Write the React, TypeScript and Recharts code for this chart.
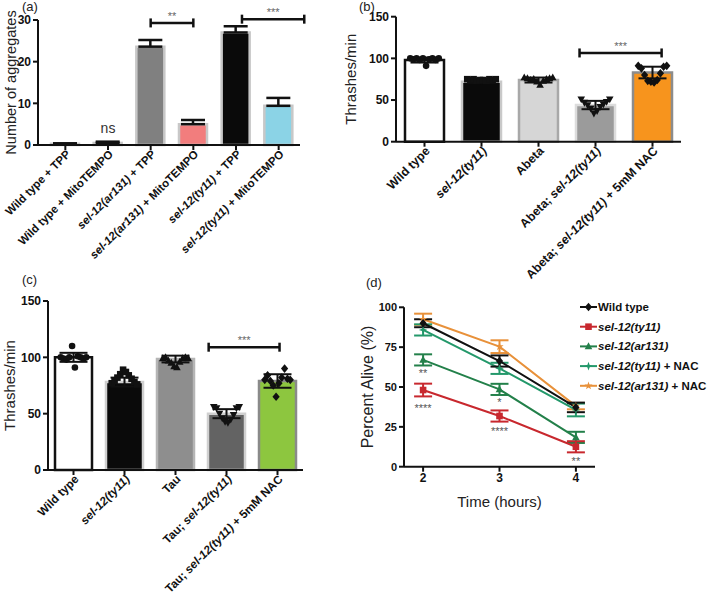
import React from "react"
import {
  ComposedChart,
  Bar,
  Cell,
  XAxis,
  YAxis,
  ErrorBar,
  Scatter,
  ReferenceLine,
  ReferenceDot,
  LineChart,
  Line,
} from "recharts"

const FONT = '"Liberation Sans", Arial, Helvetica, sans-serif'
const INK = "#111"

// ---- (a) aggregates ----
const aggCats = [
  "Wild type + TPP",
  "Wild type + MitoTEMPO",
  "sel-12(ar131) + TPP",
  "sel-12(ar131) + MitoTEMPO",
  "sel-12(ty11) + TPP",
  "sel-12(ty11) + MitoTEMPO",
]
const aggMean = [0.3, 0.5, 23.6, 5.0, 27.0, 9.4]
const aggErr = [0.1, 0.3, 1.6, 1.0, 1.5, 1.9]
const aggFill = ["#555555", "#d8d8d8", "#808080", "#f27d7d", "#0a0a0a", "#8bd3e6"]

// ---- (b) Abeta thrashing ----
const abCats = ["Wild type", "sel-12(ty11)", "Abeta", "Abeta; sel-12(ty11)", "Abeta; sel-12(ty11) + 5mM NAC"]
const abMean = [98, 72, 74, 44, 83]
const abSd = [3, 1.5, 3, 5, 7]
const abPoints = [
  [100, 99, 100, 98, 100, 91, 99, 100, 98, 100],
  [75, 74, 75, 73, 74, 74, 73, 75, 74, 75],
  [77, 76, 74, 75, 72, 68, 73, 75, 76, 77],
  [51, 47, 44, 40, 34, 37, 42, 45, 48, 51],
  [91, 88, 80, 73, 72, 71, 74, 82, 90, 91],
]
const abFill = ["#ffffff", "#0a0a0a", "#d6d6d6", "#9b9b9b", "#f7941d"]
const abStroke = ["#111111", "#c9c9c9", "#a8a8a8", "#dcdcdc", "#8c8c8c"]

// ---- (c) Tau thrashing ----
const tauCats = ["Wild type", "sel-12(ty11)", "Tau", "Tau; sel-12(ty11)", "Tau; sel-12(ty11) + 5mM NAC"]
const tauMean = [100, 78, 98.5, 50, 79]
const tauSd = [4, 4, 3, 4, 6]
const tauPoints = [
  [100, 99, 98, 100, 110, 91, 101, 100, 99, 100],
  [77, 79, 82, 85, 89, 87, 84, 81, 78, 76],
  [99, 100, 97, 95, 92, 91, 96, 99, 100, 99],
  [56, 55, 50, 46, 43, 42, 45, 49, 55, 56],
  [80, 84, 79, 75, 65, 77, 82, 90, 81, 80],
]
const tauFill = ["#ffffff", "#0a0a0a", "#8e8e8e", "#636363", "#8dc63f"]
const tauStroke = ["#111111", "#cfcfcf", "#b5b5b5", "#d0d0d0", "#8a8a8a"]
const markKinds = ["circle", "square", "up", "down", "diamond"]

// ---- (d) survival ----
const hours = [2, 3, 4]
const wtAlive = [90, 66.3, 37.2]
const wtErr = [2.5, 3.5, 3]
const ty11Alive = [48.1, 31.8, 12.5]
const ty11Err = [4, 3.5, 3.5]
const ar131Alive = [67, 48.5, 18.4]
const ar131Err = [3.5, 3.5, 3.5]
const ty11NacAlive = [85.8, 61.7, 35.6]
const ty11NacErr = [3.5, 3.5, 4]
const ar131NacAlive = [92.5, 75.3, 38]
const ar131NacErr = [3.5, 4, 2]
const survStars = [
  { t: 2, y: 58.5, s: "**" },
  { t: 2, y: 36.5, s: "****" },
  { t: 3, y: 40.3, s: "*" },
  { t: 3, y: 22.2, s: "****" },
  { t: 4, y: 3.3, s: "**" },
]

const survSeries = [
  { key: "ar131Nac", name: "sel-12(ar131) + NAC", color: "#e8913a", kind: "star", vals: ar131NacAlive, err: ar131NacErr },
  { key: "ty11Nac", name: "sel-12(ty11) + NAC", color: "#23986a", kind: "plus", vals: ty11NacAlive, err: ty11NacErr },
  { key: "ar131", name: "sel-12(ar131)", color: "#23804a", kind: "up", vals: ar131Alive, err: ar131Err },
  { key: "ty11", name: "sel-12(ty11)", color: "#c8282e", kind: "square", vals: ty11Alive, err: ty11Err },
  { key: "wt", name: "Wild type", color: "#111111", kind: "diamond", vals: wtAlive, err: wtErr },
]
const legendOrder = ["wt", "ty11", "ar131", "ty11Nac", "ar131Nac"]

function splitItalic(s: string) {
  const out: { t: string; it: boolean }[] = []
  const re = /sel-12\([^)]*\)/g
  let last = 0
  let m: RegExpExecArray | null
  while ((m = re.exec(s))) {
    if (m.index > last) out.push({ t: s.slice(last, m.index), it: false })
    out.push({ t: m[0], it: true })
    last = m.index + m[0].length
  }
  if (last < s.length) out.push({ t: s.slice(last), it: false })
  return out
}

function RichText({ text }: { text: string }) {
  return (
    <>
      {splitItalic(text).map((p, i) => (
        <tspan key={i} fontStyle={p.it ? "italic" : "normal"}>
          {p.t}
        </tspan>
      ))}
    </>
  )
}

function SlantTick(props: any) {
  const { x, y, payload, size } = props
  return (
    <g transform={`translate(${x + 3},${y})`}>
      <text
        x={0}
        y={0}
        dy={size * 0.35}
        transform="rotate(-45)"
        textAnchor="end"
        fontFamily={FONT}
        fontWeight="bold"
        fontSize={size}
        fill={INK}
        style={{ whiteSpace: "pre" }}
      >
        <RichText text={payload.value} />
      </text>
    </g>
  )
}

function Mark({ cx, cy, kind, r = 3.4, fill = INK }: any) {
  if (cx == null || cy == null) return null
  switch (kind) {
    case "circle":
      return <circle cx={cx} cy={cy} r={r} fill={fill} />
    case "square":
      return <rect x={cx - r} y={cy - r} width={2 * r} height={2 * r} fill={fill} />
    case "up":
      return <path d={`M${cx},${cy - r * 1.25}L${cx + r * 1.15},${cy + r * 0.85}L${cx - r * 1.15},${cy + r * 0.85}Z`} fill={fill} />
    case "down":
      return <path d={`M${cx},${cy + r * 1.25}L${cx + r * 1.15},${cy - r * 0.85}L${cx - r * 1.15},${cy - r * 0.85}Z`} fill={fill} />
    case "diamond":
      return <path d={`M${cx},${cy - r * 1.3}L${cx + r * 1.1},${cy}L${cx},${cy + r * 1.3}L${cx - r * 1.1},${cy}Z`} fill={fill} />
    case "plus":
      return (
        <path
          d={`M${cx},${cy - r * 1.3}L${cx + r * 0.35},${cy - r * 0.35}L${cx + r * 1.3},${cy}L${cx + r * 0.35},${cy + r * 0.35}L${cx},${cy + r * 1.3}L${cx - r * 0.35},${cy + r * 0.35}L${cx - r * 1.3},${cy}L${cx - r * 0.35},${cy - r * 0.35}Z`}
          fill={fill}
        />
      )
    case "star": {
      const pts: string[] = []
      for (let k = 0; k < 10; k++) {
        const a = -Math.PI / 2 + (k * Math.PI) / 5
        const rr = k % 2 === 0 ? r * 1.3 : r * 0.5
        pts.push(`${cx + rr * Math.cos(a)},${cy + rr * Math.sin(a)}`)
      }
      return <polygon points={pts.join(" ")} fill={fill} />
    }
  }
  return null
}

// bracket with end caps and stars above it
const bracket = (stars: string) => (p: any) => {
  const { x1, y1, x2, y2 } = p
  return (
    <g>
      <line x1={x1} y1={y1} x2={x2} y2={y2} stroke={INK} strokeWidth={2.5} />
      <line x1={x1} y1={y1 - 4.5} x2={x1} y2={y1 + 4.5} stroke={INK} strokeWidth={2.5} />
      <line x1={x2} y1={y2 - 4.5} x2={x2} y2={y2 + 4.5} stroke={INK} strokeWidth={2.5} />
      <text x={(x1 + x2) / 2} y={y1 - 3} textAnchor="middle" fontSize={11} fill="#666" fontFamily={FONT}>
        {stars}
      </text>
    </g>
  )
}

// spread jittered dots across the bar
const spreadPoints = (groups: number[][], width: number) =>
  groups.flatMap((vals, g) =>
    vals.map((v, i) => ({ x: g + (vals.length > 1 ? (i / (vals.length - 1) - 0.5) * width : 0), y: v, g }))
  )

const axisLine = { stroke: INK, strokeWidth: 2 }
const yTick = { fontSize: 12, fontWeight: "bold", fill: INK, fontFamily: FONT }

function PanelA() {
  const rows = aggCats.map((name, i) => ({ name, x: i, mean: aggMean[i], err: [0, aggErr[i]] }))
  const pad = { left: 6, right: 0 }
  return (
    <ComposedChart width={320} height={300} data={rows} margin={{ top: 20, right: 20, left: 0, bottom: 15 }}>
      <XAxis
        xAxisId="cat"
        dataKey="name"
        type="category"
        interval={0}
        height={140}
        padding={pad}
        axisLine={axisLine}
        tickLine={axisLine}
        tickSize={5}
        tick={(p: any) => <SlantTick {...p} size={11.5} />}
      />
      <XAxis xAxisId="num" dataKey="x" type="number" scale="linear" domain={[-0.5, 5.5]} allowDataOverflow hide padding={pad} />
      <YAxis
        width={38}
        domain={[0, 30]}
        ticks={[0, 10, 20, 30]}
        axisLine={axisLine}
        tickLine={axisLine}
        tickSize={5}
        tick={yTick}
        label={{
          value: "Number of aggregates",
          angle: -90,
          position: "insideLeft",
          offset: 11,
          style: { textAnchor: "middle", fontSize: 14.5, fill: "#222", fontFamily: FONT },
        }}
      />
      <Bar xAxisId="cat" dataKey="mean" barSize={28} stroke="#c8c8c8" strokeWidth={2.5} isAnimationActive={false}>
        {rows.map((_, i) => (
          <Cell key={i} fill={aggFill[i]} />
        ))}
        <ErrorBar dataKey="err" width={12} stroke={INK} strokeWidth={2.5} direction="y" />
      </Bar>
      <ReferenceLine xAxisId="num" ifOverflow="visible" segment={[{ x: 2, y: 29.3 }, { x: 3, y: 29.3 }]} shape={bracket("**")} />
      <ReferenceLine xAxisId="num" ifOverflow="visible" segment={[{ x: 4.14, y: 30.2 }, { x: 5.6, y: 30.2 }]} shape={bracket("***")} />
      <ReferenceDot
        xAxisId="num"
        x={1}
        y={4.1}
        r={0}
        fill="none"
        stroke="none"
        ifOverflow="visible"
        label={{ value: "ns", position: "center", fontSize: 14, fill: "#333", fontFamily: FONT }}
      />
    </ComposedChart>
  )
}

function BarDotPanel({
  cats,
  mean,
  sd,
  points,
  fills,
  strokes,
  width,
  height,
  margin,
  yWidth,
  xHeight,
  labelOffset,
  barSize,
  tickSize,
  bracketSeg,
}: any) {
  const rows = cats.map((name: string, i: number) => ({ name, x: i, mean: mean[i], sd: sd[i] }))
  const dots = spreadPoints(points, 0.5)
  return (
    <ComposedChart width={width} height={height} data={rows} margin={margin}>
      <XAxis
        xAxisId="cat"
        dataKey="name"
        type="category"
        interval={0}
        height={xHeight}
        axisLine={axisLine}
        tickLine={axisLine}
        tickSize={5}
        tick={(p: any) => <SlantTick {...p} size={tickSize} />}
      />
      <XAxis
        xAxisId="num"
        dataKey="x"
        type="number"
        scale="linear"
        domain={[-0.5, cats.length - 0.5]}
        allowDataOverflow
        hide
      />
      <YAxis
        width={yWidth}
        domain={[0, 150]}
        ticks={[0, 50, 100, 150]}
        axisLine={axisLine}
        tickLine={axisLine}
        tickSize={5}
        tick={yTick}
        label={{
          value: "Thrashes/min",
          angle: -90,
          position: "insideLeft",
          offset: labelOffset,
          style: { textAnchor: "middle", fontSize: 15, fill: "#222", fontFamily: FONT },
        }}
      />
      <Bar xAxisId="cat" dataKey="mean" barSize={barSize} strokeWidth={2.5} isAnimationActive={false}>
        {rows.map((_: any, i: number) => (
          <Cell key={i} fill={fills[i]} stroke={strokes[i]} />
        ))}
        <ErrorBar dataKey="sd" width={14} stroke={INK} strokeWidth={2} direction="y" />
      </Bar>
      <Scatter
        xAxisId="num"
        data={dots}
        dataKey="y"
        isAnimationActive={false}
        shape={(p: any) => <Mark cx={p.cx} cy={p.cy} kind={markKinds[p.payload.g]} r={3.3} />}
      />
      <ReferenceLine xAxisId="num" ifOverflow="visible" segment={bracketSeg} shape={bracket("***")} />
    </ComposedChart>
  )
}

function PanelD() {
  const rows = hours.map((t, i) => {
    const r: any = { t }
    survSeries.forEach((s) => {
      r[s.key] = s.vals[i]
      r[s.key + "E"] = s.err[i]
    })
    return r
  })
  return (
    <LineChart width={369} height={316} data={rows} margin={{ top: 27.3, right: 114, left: 0, bottom: 89.3 }}>
      <XAxis
        dataKey="t"
        type="number"
        domain={[1.75, 4.25]}
        ticks={hours}
        allowDataOverflow
        height={40}
        axisLine={axisLine}
        tickLine={axisLine}
        tickSize={5}
        tick={yTick}
        label={{ value: "Time (hours)", position: "insideBottom", offset: 0, fontSize: 15, fill: "#222", fontFamily: FONT }}
      />
      <YAxis
        width={64}
        domain={[0, 100]}
        ticks={[0, 25, 50, 75, 100]}
        axisLine={axisLine}
        tickLine={axisLine}
        tickSize={5}
        tick={{ ...yTick, fontSize: 11 }}
        label={{
          value: "Percent Alive (%)",
          angle: -90,
          position: "insideLeft",
          offset: 27,
          style: { textAnchor: "middle", fontSize: 16, fill: "#222", fontFamily: FONT },
        }}
      />
      {survSeries.map((s) => (
        <Line
          key={s.key}
          dataKey={s.key}
          type="linear"
          stroke={s.color}
          strokeWidth={2}
          isAnimationActive={false}
          dot={(p: any) => <Mark key={`${s.key}-${p.index}`} cx={p.cx} cy={p.cy} kind={s.kind} r={3.3} fill={s.color} />}
          activeDot={false}
        >
          <ErrorBar dataKey={s.key + "E"} width={9} stroke={s.color} strokeWidth={2} direction="y" />
        </Line>
      ))}
      {survStars.map((a, i) => (
        <ReferenceDot
          key={i}
          x={a.t}
          y={a.y}
          r={0}
          fill="none"
          stroke="none"
          ifOverflow="visible"
          label={{ value: a.s, position: "center", fontSize: 11, fill: "#555", fontFamily: FONT }}
        />
      ))}
    </LineChart>
  )
}

function LegendD() {
  const byKey: any = {}
  survSeries.forEach((s) => (byKey[s.key] = s))
  return (
    <svg width={135} height={100}>
      {legendOrder.map((k, i) => {
        const s = byKey[k]
        const y = 8 + i * 19.7
        return (
          <g key={k}>
            <line x1={2} y1={y} x2={19} y2={y} stroke={s.color} strokeWidth={2} />
            <Mark cx={10.5} cy={y} kind={s.kind} r={3.3} fill={s.color} />
            <text x={20} y={y + 4} fontFamily={FONT} fontWeight="bold" fontSize={11.5} fill={INK} style={{ whiteSpace: "pre" }}>
              <RichText text={s.name} />
            </text>
          </g>
        )
      })}
    </svg>
  )
}

function Tag({ x, y, text }: { x: number; y: number; text: string }) {
  return (
    <div style={{ position: "absolute", left: x, top: y, fontSize: 13, fontFamily: FONT, color: "#222", lineHeight: "14px" }}>
      {text}
    </div>
  )
}

export default function App() {
  return (
    <div style={{ position: "absolute", left: 0, top: 0, width: 709, height: 596, background: "#fff", overflow: "hidden" }}>
      <div style={{ position: "absolute", left: 0, top: 0 }}>
        <PanelA />
      </div>
      <div style={{ position: "absolute", left: 336, top: 0 }}>
        <BarDotPanel
          cats={abCats}
          mean={abMean}
          sd={abSd}
          points={abPoints}
          fills={abFill}
          strokes={abStroke}
          width={373}
          height={300}
          margin={{ top: 16.7, right: 28, left: 0, bottom: 8.3 }}
          yWidth={60}
          xHeight={150}
          labelOffset={15}
          barSize={39}
          tickSize={12.3}
          bracketSeg={[{ x: 2.72, y: 106.5 }, { x: 4.16, y: 106.5 }]}
        />
      </div>
      <div style={{ position: "absolute", left: 0, top: 280 }}>
        <BarDotPanel
          cats={tauCats}
          mean={tauMean}
          sd={tauSd}
          points={tauPoints}
          fills={tauFill}
          strokes={tauStroke}
          width={320}
          height={316}
          margin={{ top: 21, right: 17, left: 0, bottom: 6 }}
          yWidth={48}
          xHeight={120}
          labelOffset={10}
          barSize={37}
          tickSize={11.8}
          bracketSeg={[{ x: 2.65, y: 109 }, { x: 4.04, y: 109 }]}
        />
      </div>
      <div style={{ position: "absolute", left: 340, top: 280 }}>
        <PanelD />
      </div>
      <div style={{ position: "absolute", left: 578, top: 299 }}>
        <LegendD />
      </div>
      <Tag x={22} y={0} text="(a)" />
      <Tag x={359} y={0} text="(b)" />
      <Tag x={22} y={273} text="(c)" />
      <Tag x={366} y={276} text="(d)" />
    </div>
  )
}
